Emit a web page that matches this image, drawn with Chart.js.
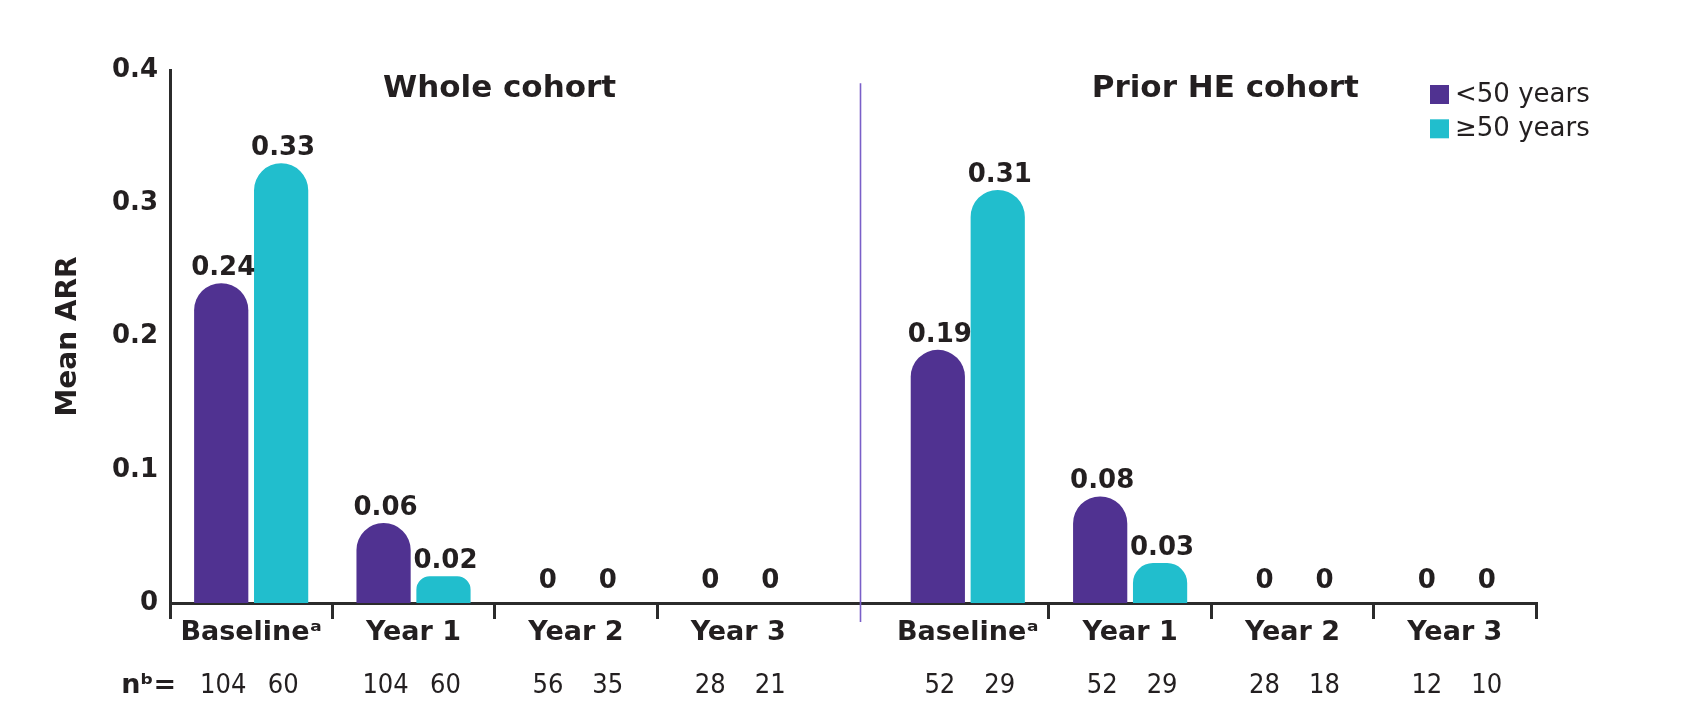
<!DOCTYPE html>
<html><head><meta charset="utf-8">
<script src="https://cdn.jsdelivr.net/npm/chart.js@4.4.0/dist/chart.umd.min.js"></script>
<style>html,body{margin:0;padding:0;background:#fff;overflow:hidden}#wrap{width:1694px;height:705px}</style>
</head><body><div id="wrap"><canvas id="c" width="1694" height="705"></canvas></div>
<script>
// ---- data ----
const categories = ['Baseline\u1D43', 'Year 1', 'Year 2', 'Year 3', 'Baseline\u1D43', 'Year 1', 'Year 2', 'Year 3'];
const panels = ['Whole cohort', 'Prior HE cohort'];
const seriesNames = ['<50 years', '\u226550 years'];
const under50 = [0.24, 0.06, 0, 0, 0.19, 0.08, 0, 0];
const over50 = [0.33, 0.02, 0, 0, 0.31, 0.03, 0, 0];
const nUnder50 = [104, 104, 56, 28, 52, 52, 28, 12];
const nOver50 = [60, 60, 35, 21, 29, 29, 18, 10];
const yTicks = [0, 0.1, 0.2, 0.3, 0.4];
const nLabel = 'n\u1D47=';

// ---- layout helpers ----
const ink = '#231F20';
const purple = '#503291';
const cyan = '#21BECD';
const GAP = 0.414; // extra space between the two panels, in category units
const xPos = categories.map((c, i) => i < 4 ? i : i + GAP);
const xMin = -0.5, xMax = 7.5 + GAP;
const boundaryTicks = [-0.5, 0.5, 1.5, 2.5, 4.5 + GAP, 5.5 + GAP, 6.5 + GAP, 7.5 + GAP];

const annot = {
  id: 'annot',
  afterDatasetsDraw(chart) {
    const {ctx, scales: {x, y}} = chart;
    const base = y.getPixelForValue(0);
    ctx.save();
    // value labels
    ctx.fillStyle = ink;
    ctx.textAlign = 'center';
    ctx.textBaseline = 'alphabetic';
    ctx.font = 'bold 26px "DejaVu Sans"';
    chart.data.datasets.forEach((ds, di) => {
      chart.getDatasetMeta(di).data.forEach((bar, i) => {
        const v = ds.data[i].y;
        const ty = Math.min(bar.y - 8, base - 15);
        ctx.fillText(v === 0 ? '0' : v.toFixed(2), bar.x + 2, ty);
      });
    });
    // n row
    ctx.font = '27px "DejaVu Sans Condensed", "DejaVu Sans"';
    const nSets = [nUnder50, nOver50];
    nSets.forEach((arr, di) => {
      chart.getDatasetMeta(di).data.forEach((bar, i) => {
        ctx.fillText(String(arr[i]), bar.x + 2, 693);
      });
    });
    ctx.textAlign = 'right';
    ctx.font = 'bold 27px "DejaVu Sans"';
    ctx.fillText(nLabel, 176, 693);
    // panel titles
    ctx.textAlign = 'center';
    ctx.font = 'bold 31px "DejaVu Sans"';
    ctx.fillText(panels[0], x.getPixelForValue(1.53), 97);
    ctx.fillText(panels[1], x.getPixelForValue(6.0), 97);
    // divider
    const dx = Math.round(x.getPixelForValue(3.75)) + 0.5;
    ctx.strokeStyle = '#7A5FC8';
    ctx.lineWidth = 1.6;
    ctx.beginPath();
    ctx.moveTo(dx, y.getPixelForValue(0.39));
    ctx.lineTo(dx, base + 19);
    ctx.stroke();
    // legend
    ctx.textAlign = 'left';
    ctx.textBaseline = 'middle';
    ctx.font = '26px "DejaVu Sans"';
    chart.data.datasets.forEach((ds, di) => {
      const top = 85 + di * 34.3;
      ctx.fillStyle = ds.backgroundColor;
      ctx.fillRect(1430, top, 19, 19);
      ctx.fillStyle = ink;
      ctx.fillText(ds.label, 1455, top + 10);
    });
    ctx.restore();
  }
};

new Chart(document.getElementById('c'), {
  type: 'bar',
  data: {
    datasets: [
      {label: seriesNames[0], data: xPos.map((p, i) => ({x: p, y: under50[i]})), backgroundColor: purple, borderWidth: 0, borderRadius: 27, borderSkipped: 'bottom'},
      {label: seriesNames[1], data: xPos.map((p, i) => ({x: p, y: over50[i]})), backgroundColor: cyan, borderWidth: 0, borderRadius: 27, borderSkipped: 'bottom'}
    ]
  },
  options: {
    responsive: false,
    animation: false,
    events: [],
    layout: {padding: {left: 0, right: 158, top: 70, bottom: 59}},
    datasets: {bar: {categoryPercentage: 0.738, barPercentage: 0.905}},
    plugins: {legend: {display: false}, tooltip: {enabled: false}},
    scales: {
      x: {
        type: 'linear', min: xMin, max: xMax, position: 'bottom', weight: 0, offset: false,
        afterBuildTicks: s => { s.ticks = boundaryTicks.map(v => ({value: v})); },
        ticks: {display: false},
        grid: {offset: false, drawOnChartArea: false, drawTicks: true, tickLength: 16, color: '#2b2b2b', lineWidth: 3},
        border: {display: true, color: '#2b2b2b', width: 3}
      },
      xl: {
        type: 'linear', min: xMin, max: xMax, position: 'bottom', weight: 1, offset: false,
        afterBuildTicks: s => { s.ticks = xPos.map(v => ({value: v})); },
        ticks: {autoSkip: false, maxRotation: 0, minRotation: 0, padding: 0, color: ink,
          font: {family: 'DejaVu Sans', weight: 'bold', size: 27, lineHeight: 1},
          callback: (v, i) => categories[i]},
        grid: {offset: false, display: false, drawTicks: false},
        border: {display: false}
      },
      y: {
        min: 0, max: 0.4,
        afterBuildTicks: s => { s.ticks = yTicks.map(v => ({value: v})); },
        afterFit: s => { s.width = 170; },
        ticks: {padding: 12, color: ink, font: {family: 'DejaVu Sans', weight: 'bold', size: 26}, callback: v => String(v)},
        grid: {display: false, drawTicks: false},
        border: {display: true, color: '#2b2b2b', width: 3},
        title: {display: true, text: 'Mean ARR', color: ink, font: {family: 'DejaVu Sans', weight: 'bold', size: 28, lineHeight: 1.2}, padding: {top: 52, bottom: 0}}
      }
    }
  },
  plugins: [annot]
});
</script></body></html>
